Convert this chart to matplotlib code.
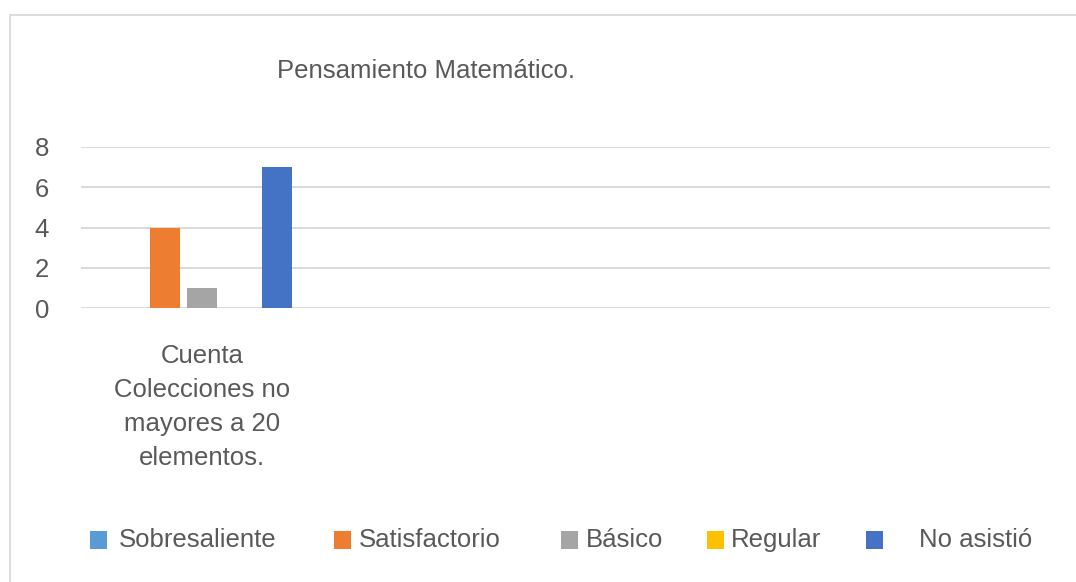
import numpy as np
import matplotlib
matplotlib.use("Agg")
import matplotlib.pyplot as plt
from matplotlib.patches import Rectangle

# data
title = "Pensamiento Matemático."
categories = ["Cuenta\nColecciones no\nmayores a 20\nelementos."]
series = ["Sobresaliente", "Satisfactorio", "Básico", "Regular", "No asistió"]
values = [0, 4, 1, 0, 7]
colors = ["#5B9BD5", "#ED7D31", "#A5A5A5", "#FFC000", "#4472C4"]
yticks = [0, 2, 4, 6, 8]

n_slots = 4          # the axis leaves room for four category slots
text_color = "#595959"
grid_color = "#D9D9D9"
fs = 18.5

plt.rcParams['font.family'] = ['Liberation Sans', 'DejaVu Sans']

fig = plt.figure(figsize=(10.76, 5.82), dpi=100)
W, H = 1076, 582

# chart frame (right and bottom edges fall outside the image)
fig.patches.append(Rectangle((10 / W, -0.05), 1.2, 1 - 15 / H + 0.05,
                             transform=fig.transFigure, fill=False,
                             edgecolor=grid_color, lw=1.3))

ax = fig.add_axes([81 / W, 1 - 308 / H, (1050 - 81) / W, (308 - 147) / H])

slot = 37.5 / 243
bar_w = 30 / 243
x = np.arange(len(categories))
for i, (name, v, c) in enumerate(zip(series, values, colors)):
    ax.bar(x + (i - 2) * slot, [v], width=bar_w, color=c, label=name, zorder=3)

ax.set_xlim(-0.5, n_slots - 0.5)
ax.set_ylim(0, 8)
ax.set_yticks(yticks)
ax.set_yticklabels([str(t) for t in yticks], fontsize=fs, color=text_color)
ax.set_xticks(x)
ax.set_xticklabels(categories, fontsize=fs, color=text_color, linespacing=1.52)
ax.tick_params(axis='both', length=0)
ax.tick_params(axis='y', pad=23)
ax.tick_params(axis='x', pad=26)
ax.grid(axis='y', color=grid_color, lw=1.4, zorder=0)
for s in ax.spines.values():
    s.set_visible(False)

fig.text(426 / W, 1 - 71 / H, title, ha='center', va='center',
         fontsize=fs, color=text_color)

# legend laid out like the reference
leg_x = [90, 334, 561, 707, 866]
leg_text_x = [119, 359, 586, 731, 919]
leg_y = 540
sq_w, sq_h = 17, 18
for name, c, lx, tx in zip(series, colors, leg_x, leg_text_x):
    fig.patches.append(Rectangle((lx / W, 1 - (leg_y + sq_h / 2) / H), sq_w / W, sq_h / H,
                                 transform=fig.transFigure, facecolor=c,
                                 edgecolor='none'))
    fig.text(tx / W, 1 - leg_y / H, name, ha='left', va='center',
             fontsize=fs, color=text_color)

fig.savefig("out.png", dpi=100)
